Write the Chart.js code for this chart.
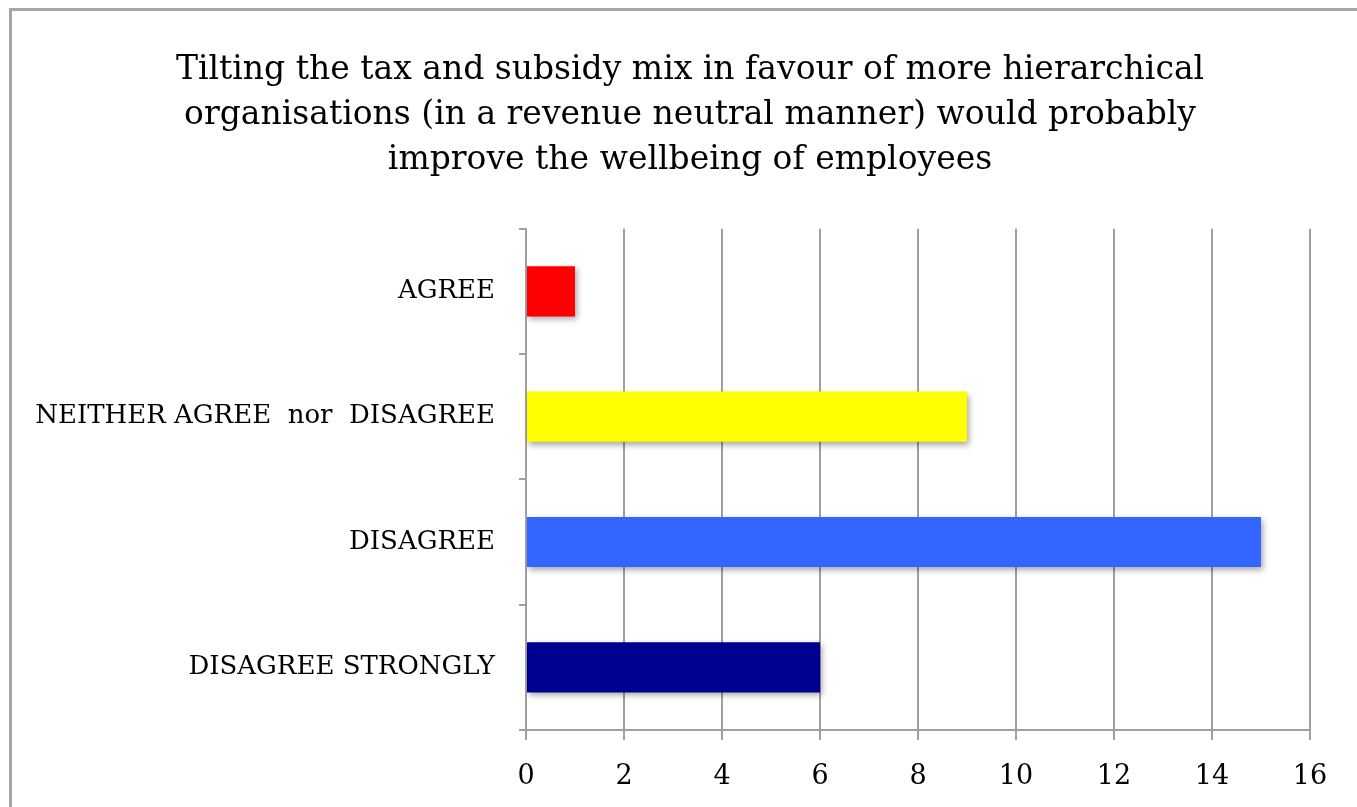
<!DOCTYPE html>
<html>
<head>
<meta charset="utf-8">
<script src="https://cdn.jsdelivr.net/npm/chart.js@4"></script>
<style>
  html, body { margin: 0; padding: 0; background: #fff; }
  #frame { position: absolute; left: 9px; top: 8px; width: 1400px; height: 850px; border: 3px solid #a6a6a6; }
  #wrap { position: absolute; left: 0; top: 0; width: 1357px; height: 807px; }
</style>
</head>
<body>
<div id="frame"></div>
<div id="wrap"><canvas id="chart-survey"></canvas></div>
<script>
const CATEGORIES = ['AGREE', 'NEITHER AGREE  nor  DISAGREE', 'DISAGREE', 'DISAGREE STRONGLY'];
const RESPONSES = [1, 9, 15, 6];
const BAR_COLOURS = ['#ff0000', '#ffff00', '#3366ff', '#000090'];
const X_MAX = 16;
const TITLE = [
    'Tilting the tax and subsidy mix in favour of more hierarchical',
    'organisations (in a revenue neutral manner) would probably',
    'improve the wellbeing of employees'
];

const FONT = "'DejaVu Serif', 'Liberation Serif', serif";
const GRID = '#a0a0a0';

// soft drop shadow under the bars, like the original
const barShadow = {
    id: 'barShadow',
    beforeDatasetsDraw(chart) {
        const ctx = chart.ctx;
        ctx.save();
        ctx.shadowColor = 'rgba(0,0,0,0.35)';
        ctx.shadowBlur = 6;
        ctx.shadowOffsetX = 2;
        ctx.shadowOffsetY = 3;
    },
    afterDatasetsDraw(chart) {
        chart.ctx.restore();
    }
};

// title in the original sits a bit right of the canvas centre
const titleShift = {
    id: 'titleShift',
    afterLayout(chart) {
        if (chart.titleBlock) {
            chart.titleBlock.left += 58;
        }
    }
};

var domChart = document.getElementById('chart-survey');
new Chart(domChart, {
    type: 'bar',
    plugins: [barShadow, titleShift],
    data: {
        labels: CATEGORIES,
        datasets: [
            {
                label: 'Responses',
                data: RESPONSES,
                backgroundColor: BAR_COLOURS,
                borderWidth: 0,
                barPercentage: 0.4,
                categoryPercentage: 1
            }
        ]
    },
    options: {
        indexAxis: 'y',
        responsive: true,
        maintainAspectRatio: false,
        animation: false,
        layout: {
            padding: { left: 12, right: 47, top: 0, bottom: 0 }
        },
        plugins: {
            legend: { display: false },
            tooltip: { enabled: false },
            title: {
                display: true,
                text: TITLE,
                color: '#000',
                font: { family: FONT, size: 33, weight: 'normal', lineHeight: 1.36 },
                padding: { top: 48, bottom: 46 }
            }
        },
        scales: {
            x: {
                min: 0,
                max: X_MAX,
                ticks: {
                    stepSize: 2,
                    color: '#000',
                    padding: 21,
                    font: { family: FONT, size: 27 }
                },
                grid: {
                    color: GRID,
                    lineWidth: 2,
                    tickLength: 10
                },
                border: { color: GRID, width: 2 },
                afterFit(scale) { scale.height = 77; }
            },
            y: {
                ticks: {
                    color: '#000',
                    padding: 24,
                    font: { family: FONT, size: 26 }
                },
                grid: {
                    color: GRID,
                    lineWidth: 2,
                    drawOnChartArea: false,
                    tickLength: 7
                },
                border: { color: GRID, width: 2 },
                afterFit(scale) { scale.width = 514; }
            }
        }
    }
});
</script>
</body>
</html>
